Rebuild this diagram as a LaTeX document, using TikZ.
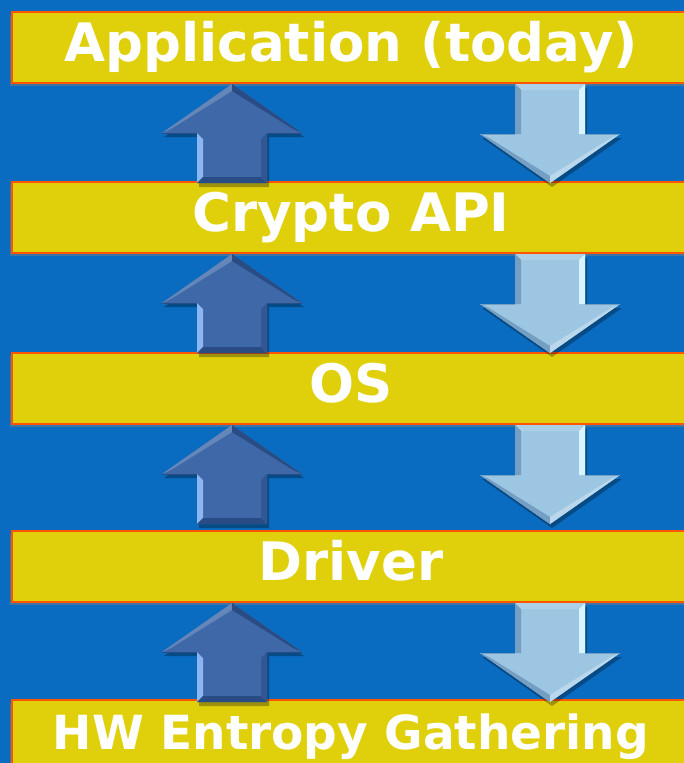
\documentclass[tikz,border=0pt]{standalone}
\usepackage{fontspec}
\setmainfont{DejaVu Sans}
\usetikzlibrary{
  calc,
  shadows,
}

\definecolor{bgblue}{RGB}{10,108,192}
\definecolor{baryellow}{RGB}{224,208,12}
\definecolor{barrim}{RGB}{255,84,0}
\definecolor{upblue}{RGB}{62,104,168}
\definecolor{upedge}{RGB}{140,182,242}
\definecolor{updark}{RGB}{42,76,132}
\definecolor{downblue}{RGB}{156,198,226}
\definecolor{downedge}{RGB}{216,245,255}
\definecolor{downdark}{RGB}{116,158,194}

\tikzset{
  bar/.style={
    draw=barrim, line width=2pt, fill=baryellow,
    minimum width=700pt, minimum height=71pt,
    anchor=north west, inner sep=0pt,
    drop shadow={shadow xshift=-2pt, shadow yshift=-3pt, opacity=.45},
  },
  barlabel/.style={text=white, anchor=base, inner sep=0pt},
  up arrow/.pic={
    \fill[black, opacity=.3, xshift=2pt, yshift=-4pt]
      (0,0) -- (70,49) -- (35,49) -- (35,99) -- (-35,99) -- (-35,49) -- (-70,49) -- cycle;
    \fill[upblue] (0,0) -- (70,49) -- (35,49) -- (35,99) -- (-35,99) -- (-35,49) -- (-70,49) -- cycle;
    \fill[upblue!80!white] (0,0) -- (-70,49) -- (-61,45) -- (0,7) -- cycle;
    \fill[updark] (0,0) -- (70,49) -- (61,45) -- (0,7) -- cycle;
    \fill[upedge] (-35,49) -- (-29,55) -- (-29,93) -- (-35,99) -- cycle;
    \fill[updark] (-35,99) -- (-29,93) -- (29,93) -- (35,99) -- cycle;
    \fill[updark!60!upblue] (35,49) -- (29,55) -- (29,93) -- (35,99) -- cycle;
    \draw[updark, line width=.8pt] (-70,49) -- (-35,49) (35,49) -- (70,49);
  },
  down arrow/.pic={
    \fill[black, opacity=.3, xshift=2pt, yshift=-4pt]
      (-35,0) -- (35,0) -- (35,50) -- (70,50) -- (0,99) -- (-70,50) -- (-35,50) -- cycle;
    \fill[downblue] (-35,0) -- (35,0) -- (35,50) -- (70,50) -- (0,99) -- (-70,50) -- (-35,50) -- cycle;
    \fill[downblue!85!white] (-35,0) -- (35,0) -- (29,6) -- (-29,6) -- cycle;
    \fill[downedge] (35,0) -- (29,6) -- (29,50) -- (35,50) -- cycle;
    \fill[downdark] (-35,0) -- (-29,6) -- (-29,50) -- (-35,50) -- cycle;
    \fill[downdark] (-70,50) -- (0,99) -- (0,92) -- (-61,54) -- cycle;
    \fill[downblue!70!white] (70,50) -- (0,99) -- (0,92) -- (61,54) -- cycle;
    \draw[downdark, line width=.8pt] (-70,50) -- (-35,50) (35,50) -- (70,50);
  },
}

\begin{document}
\begin{tikzpicture}[x=1pt, y=-1pt]
\useasboundingbox (0,0) rectangle (684,763);
\fill[bgblue] (0,0) rectangle (684,763);

% layers, top to bottom
\foreach \name/\top/\fs/\txt in {
  app/11/53/{Application (today)},
  api/181/53/{Crypto API},
  os/352/53/{OS},
  drv/530/53/{Driver},
  hw/699/47/{HW Entropy Gathering}%
}{
  \node[bar] (\name) at (11,\top) {};
  \node[barlabel, font=\bfseries\fontsize{\fs}{\fs}\selectfont] (\name-text)
    at ($(\name.north west)+(340,50)$) {\txt};
}

% up and down arrows between the layers
\foreach \upper in {app,api,os,drv} {
  \pic at ($(\upper.south west)+(221,0)$) {up arrow};
  \pic at ($(\upper.south west)+(539,0)$) {down arrow};
}
\end{tikzpicture}
\end{document}
